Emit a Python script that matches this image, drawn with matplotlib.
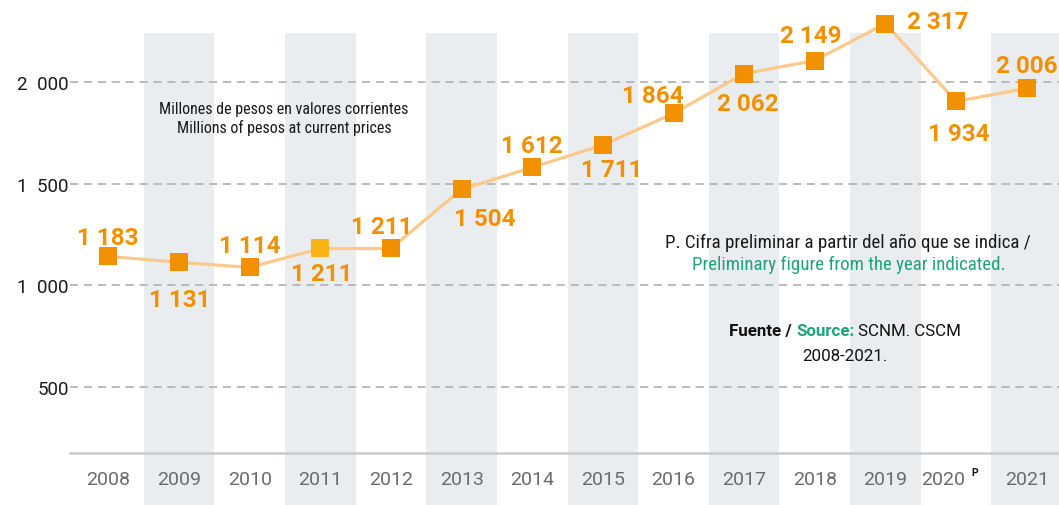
import matplotlib
matplotlib.use("Agg")
import matplotlib.pyplot as plt
from matplotlib.transforms import ScaledTranslation

# ---- data ----
years = [2008, 2009, 2010, 2011, 2012, 2013, 2014, 2015, 2016, 2017, 2018, 2019, 2020, 2021]
year_labels = ["2008", "2009", "2010", "2011", "2012", "2013", "2014", "2015",
               "2016", "2017", "2018", "2019", "2020", "2021"]
# values as positioned in the picture (millions of pesos)
values = [1142, 1113, 1088, 1181, 1181, 1472, 1580, 1690, 1846, 2042, 2106, 2288, 1905, 1969]
# printed value labels
value_labels = ["1 183", "1 131", "1 114", "1 211", "1 211", "1 504", "1 612", "1 711",
                "1 864", "2 062", "2 149", "2 317", "1 934", "2 006"]
y_ticks = [500, 1000, 1500, 2000]
y_tick_labels = ["500", "1\u2002000", "1\u2002500", "2\u2002000"]
shaded_years = [2009, 2011, 2013, 2015, 2017, 2019, 2021]
highlight_year = 2011

# ---- style ----
W, H, DPI = 1059, 506, 100
ORANGE = "#F29100"
LIGHT_ORANGE = "#FCC98C"
YELLOW = "#F9B515"
SHADE = "#E9EDF0"
GREEN = "#1FA37C"
GRID = "#B5B5B5"
COND = ["Roboto Condensed", "Liberation Sans Narrow", "Roboto", "DejaVu Sans"]
REG = ["Roboto", "DejaVu Sans"]

# label offsets in pixels (dx, dy)
offsets = [(-1, 19), (1, -37), (0, 22), (1, -25), (-9, 22), (23, -29), (0, 22),
           (9, -24), (-21, 18), (4, -30), (-4, 25), (52, 2), (3, -32), (0, 23)]

fig = plt.figure(figsize=(W / DPI, H / DPI), dpi=DPI)
ax = fig.add_axes([70 / W, (H - 454.3) / H, 1 - 70 / W, 454.3 / H])
ax.set_xlim(2007.457, 2021.457)
ax.set_ylim(173, 2409)

# shaded columns (extend below axis to figure bottom)
ymin_frac = -(H - 454.3) / 454.3
ymax_frac = (2243 - 173) / (2409 - 173)
for yr in shaded_years:
    r = ax.axvspan(yr - 0.5, yr + 0.5, ymin=ymin_frac, ymax=ymax_frac,
                   color=SHADE, lw=0, zorder=0)
    r.set_clip_on(False)

# gridlines
for t in y_ticks:
    ax.axhline(t, color=GRID, lw=1.3, ls=(0, (4.5, 3.2)), zorder=1)

# x axis line
ax.axhline(173, color="#C8CACC", lw=1.8, zorder=2, clip_on=False)

# line + markers
ax.plot(years, values, color=LIGHT_ORANGE, lw=2.3, zorder=3, solid_capstyle="round")
colors = [YELLOW if y == highlight_year else ORANGE for y in years]
for x, v, c in zip(years, values, colors):
    ax.plot([x], [v], marker="s", ms=12.3, mew=0, color=c, zorder=4, ls="none")

# value labels
for x, v, lab, (dx, dy) in zip(years, values, value_labels, offsets):
    ax.annotate(lab, (x, v), xytext=(dx, dy), textcoords="offset pixels",
                ha="center", va="center", color=ORANGE, fontsize=17.5,
                fontweight="bold", family=REG, zorder=5)

# axes cosmetics
for s in ax.spines.values():
    s.set_visible(False)
ax.set_yticks(y_ticks)
ax.set_yticklabels(y_tick_labels, family=REG, fontsize=13.5, color="#1a1a1a")
ax.set_xticks(years)
ax.set_xticklabels(year_labels, family=REG, fontsize=14, color="#6b6b6b")
ax.tick_params(axis="y", length=0, pad=1)
ax.tick_params(axis="x", length=0, pad=12)

# shift 2020 label left to make room for superscript P
for lbl in ax.get_xticklabels():
    if lbl.get_text() == "2020":
        lbl.set_transform(lbl.get_transform() + ScaledTranslation(-13 / DPI, 0, fig.dpi_scale_trans))
fig.text(975 / W, (H - 473) / H, "P", fontsize=7.5, fontweight="bold", color="#111111",
         family=REG, ha="center", va="center")

# unit note
fig.text(284 / W, (H - 110) / H, "Millones de pesos en valores corrientes",
         family=COND, fontsize=11.5, color="#1a1a1a", ha="center", va="center")
fig.text(284 / W, (H - 128) / H, "Millions of pesos at current prices",
         family=COND, fontsize=11.5, color="#1a1a1a", ha="center", va="center")

# preliminary note
fig.text(848 / W, (H - 243) / H, "P. Cifra preliminar a partir del año que se indica /",
         family=COND, fontsize=13.6, color="#1a1a1a", ha="center", va="center")
fig.text(849 / W, (H - 265) / H, "Preliminary figure from the year indicated.",
         family=COND, fontsize=13.6, color=GREEN, ha="center", va="center")

# source note (multi-colour first line)
renderer = fig.canvas.get_renderer()
parts = [("Fuente / ", "#111111", "bold"), ("Source:", GREEN, "bold"), (" SCNM. CSCM", "#111111", "normal")]
texts = []
widths = []
for s, c, w in parts:
    t = fig.text(0, (H - 332) / H, s, family=REG, fontsize=12.2, color=c, fontweight=w,
                 ha="left", va="center")
    texts.append(t)
    widths.append(t.get_window_extent(renderer).width)
total = sum(widths)
x0 = 845 - total / 2
for t, w in zip(texts, widths):
    t.set_x(x0 / W)
    x0 += w
fig.text(845 / W, (H - 357) / H, "2008-2021.", family=REG, fontsize=12.2, color="#111111",
         ha="center", va="center")

fig.savefig("out.png", dpi=DPI)
